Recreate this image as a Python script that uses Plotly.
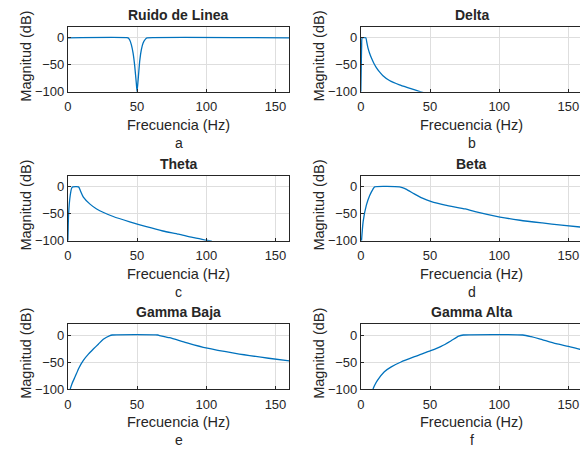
import plotly.graph_objects as go

# Frequency responses (Hz, dB) of the EEG band filters
notch_f = [0, 43.5, 44.7, 45.9, 47.1, 48.3, 49.5, 50, 50.7, 51.9, 53.1, 54.3, 56.2, 57.2, 160]
notch_db = [0, 0, -4, -13, -28, -52, -85, -100, -80, -43, -22, -10, -2, 0, 0]

delta_f = [0, 0.3, 0.6, 1, 3.6, 4.3, 5.2, 6.4, 7.6, 9.4, 11.2, 13.5, 16, 20.7, 27.9, 35, 43.3, 46]
delta_db = [-100, -55, -15, 0, 0, -8, -19, -29, -37, -47, -55, -63, -70, -79, -87, -93, -100, -102]

theta_f = [0, 0.2, 0.5, 1.7, 2.8, 3.6, 7.7, 9.2, 11.2, 16, 20.8, 32.8, 44.7, 56.7, 68.7, 80, 90, 100, 104]
theta_db = [-100, -80, -52, -16, -2, 0, 0, -8, -19, -32, -41, -55, -65, -74, -82, -88, -94, -99, -101]

beta_f = [0.5, 1.7, 4, 6.4, 8.8, 10, 27.9, 30, 32.6, 38.6, 44.5, 50.5, 61, 75.5, 82.6, 100.5, 115, 131, 145, 160]
beta_db = [-100, -64, -34, -16, -4, 0, 0, -1.5, -4, -13, -21, -27, -34, -41, -46, -56, -62, -67, -71, -75]

gbaja_f = [1.7, 3, 5.3, 8, 11.2, 15, 18.4, 22, 25.6, 30.4, 32, 65, 66.3, 73.4, 85.4, 99.8, 121, 145, 160]
gbaja_db = [-100, -90, -77, -61, -47, -35, -26, -17, -8, -1, 0, 0, -1, -5, -14, -24, -34, -43, -48]

galta_f = [8.8, 10, 12, 17, 22, 29, 40, 50.5, 58, 65, 70.7, 74, 117, 123, 129, 141, 150, 157.6, 160]
galta_db = [-100, -93, -84, -68, -59, -50, -39, -29, -21, -11, -2, 0, 0, -3, -7, -16, -21, -26, -27]

titles = ["Ruido de Linea", "Delta", "Theta", "Beta", "Gamma Baja", "Gamma Alta"]
letters = ["a", "b", "c", "d", "e", "f"]
series = [(notch_f, notch_db), (delta_f, delta_db), (theta_f, theta_db),
          (beta_f, beta_db), (gbaja_f, gbaja_db), (galta_f, galta_db)]

x_ticks = [0, 50, 100, 150]
y_ticks = [-100, -50, 0]

W, H = 580, 455
LINE = "#0072BD"
TXT = "#262626"
GRID = "#dedede"
FONT = "Liberation Sans, Arial, sans-serif"

def py(px):
    return 1 - px / H

def px_x(px):
    return px / W

# panel geometry in pixels: (left, right) per column, (top, bottom) per row
cols = [(64.3, 287.3), (359.3, 580.0)]
rows = [(27.5, 93.5), (179.3, 245.0), (330.0, 396.0)]
px_per_hz = (287.3 - 64.3) / 160.0

fig = go.Figure()
annotations = []
layout = {}
for i, (fx, fy) in enumerate(series):
    r, c = divmod(i, 2)
    left, right = cols[c]
    top, bottom = rows[r]
    xmax = (right - left) / px_per_hz
    n = "" if i == 0 else str(i + 1)
    xa, ya = "x" + n, "y" + n
    fig.add_trace(go.Scatter(x=fx, y=fy, mode="lines", xaxis=xa, yaxis=ya,
                             line=dict(color=LINE, width=1.3, shape="spline",
                                       smoothing=0.6 if i else 0.3),
                             showlegend=False, hoverinfo="skip"))
    layout["xaxis" + n] = dict(
        domain=[px_x(left), px_x(right)], anchor=ya, range=[0, xmax],
        tickvals=x_ticks, showgrid=True, gridcolor=GRID, gridwidth=1,
        zeroline=False, showline=True, linecolor=TXT, linewidth=1,
        mirror=True, ticks="inside", ticklen=3, tickcolor=TXT,
        ticklabelstandoff=3,
        tickfont=dict(family=FONT, size=13, color=TXT), fixedrange=True)
    layout["yaxis" + n] = dict(
        domain=[py(bottom), py(top)], anchor=xa, range=[-100, 20],
        tickvals=y_ticks, showgrid=True, gridcolor=GRID, gridwidth=1,
        zeroline=False, showline=True, linecolor=TXT, linewidth=1,
        mirror=(c == 0), ticks="inside", ticklen=3, tickcolor=TXT,
        tickfont=dict(family=FONT, size=13, color=TXT), fixedrange=True)
    xc = 80
    annotations.append(dict(text="<b>%s</b>" % titles[i], xref=xa, x=xc, yref="paper",
                            y=py(top - 12.5), xanchor="center", yanchor="middle",
                            showarrow=False, font=dict(family=FONT, size=14, color=TXT)))
    annotations.append(dict(text="Frecuencia (Hz)", xref=xa, x=xc, yref="paper",
                            y=py(bottom + 34), xanchor="center", yanchor="middle",
                            showarrow=False, font=dict(family=FONT, size=14.5, color=TXT)))
    annotations.append(dict(text=letters[i], xref=xa, x=xc, yref="paper",
                            y=py(bottom + 52), xanchor="center", yanchor="middle",
                            showarrow=False, font=dict(family=FONT, size=14, color=TXT)))
    annotations.append(dict(text="Magnitud (dB)", xref="paper", x=px_x(left - 42),
                            yref="paper", y=py((top + bottom) / 2 - 3), textangle=-90,
                            xanchor="center", yanchor="middle", showarrow=False,
                            font=dict(family=FONT, size=14.5, color=TXT)))

fig.update_layout(width=W, height=H, margin=dict(l=0, r=0, t=0, b=0),
                  paper_bgcolor="white", plot_bgcolor="white",
                  annotations=annotations, **layout)
fig.write_html("out.html")
